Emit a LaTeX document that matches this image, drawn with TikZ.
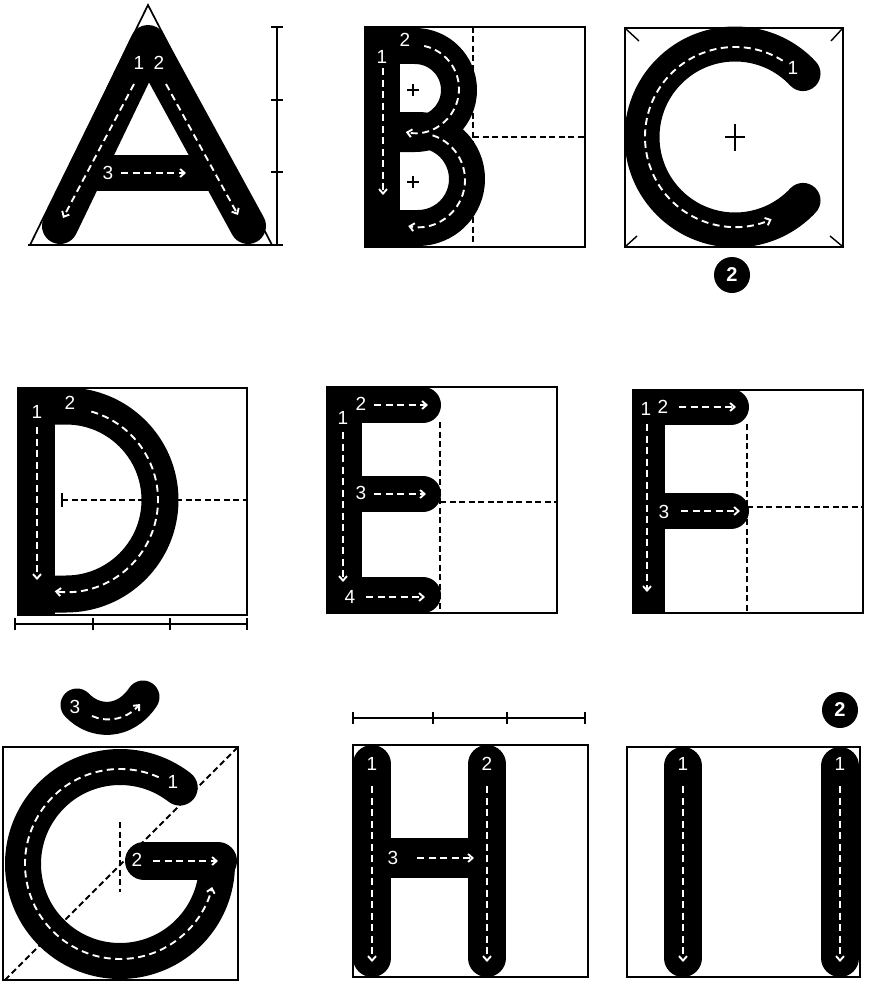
\documentclass[tikz,border=0pt]{standalone}
\usepackage{fontspec}
\setsansfont{Liberation Sans}
\usetikzlibrary{arrows.meta}
\begin{document}
\begin{tikzpicture}[x=1pt,y=-1pt,
  frame/.style={draw=black,line width=1.7pt},
  guide/.style={draw=black,line width=1.8pt,dash pattern=on 6pt off 3.5pt},
  ink/.style={draw=black,line width=36pt,line cap=round,line join=round},
  trace/.style={draw=white,line width=1.9pt,dash pattern=on 7pt off 4.5pt,-{Straight Barb[length=4.5pt,width=8pt]}},
  num/.style={text=white,font=\sffamily\fontsize{19}{19}\selectfont,inner sep=0pt},
  badge/.style={circle,fill=black,minimum size=36pt,inner sep=0pt,text=white,font=\sffamily\bfseries\fontsize{20}{20}\selectfont},
  scalebar/.style={draw=black,line width=1.7pt},
  cross/.style={draw=black,line width=1.4pt}
]
\useasboundingbox (0,0) rectangle (880,982);
\fill[white] (0,0) rectangle (880,982);

% ---------------- A ----------------
\draw[frame] (28,245) -- (283,245);
\draw[frame] (30,245) -- (148,5) -- (272,245);
\draw[scalebar] (277,27) -- (277,245);
\foreach \y in {27,100,172,245} \draw[scalebar] (271,\y) -- (283,\y);
\draw[ink] (60,226) -- (148,43) -- (248,226);
\draw[ink,line cap=butt] (86,173) -- (218,173);
\draw[trace] (134,84) -- (63,218);
\draw[trace] (166,84) -- (238,215);
\draw[trace] (121,173) -- (186,173);
\node[num] (a1) at (139,63) {1};
\node[num] (a2) at (159,63) {2};
\node[num] (a3) at (108,173) {3};

% ---------------- B ----------------
\draw[frame] (365,27) rectangle (585,247);
\draw[guide] (473,27) -- (473,247);
\draw[guide] (473,137) -- (585,137);
\fill (366,27) rectangle (400,247);
\draw[ink,line cap=butt] (383,46) -- (415,46) arc[start angle=-90,end angle=90,radius=44] -- (383,134);
\draw[ink,line cap=butt] (383,130) -- (418,130) arc[start angle=-90,end angle=90,radius=49] -- (383,228);
\draw[cross] (407,90) -- (419,90) (413,84) -- (413,96);
\draw[cross] (407,182) -- (419,182) (413,176) -- (413,188);
\draw[trace] (383,68) -- (383,195);
\draw[trace] (415,89) ++(-78:44) arc[start angle=-78,end angle=102,radius=44];
\draw[trace] (418,180) ++(-72:47) arc[start angle=-72,end angle=102,radius=47];
\node[num] (b1) at (382,57) {1};
\node[num] (b2) at (405,40) {2};

% ---------------- C ----------------
\draw[frame] (625,28) rectangle (843,247);
\draw[cross] (626,29) -- (639,41);
\draw[cross] (842,29) -- (831,41);
\draw[cross] (626,246) -- (637,236);
\draw[cross] (842,246) -- (830,236);
\draw[ink,line width=35pt] (735,137) ++(-43:93) arc[start angle=-43,end angle=-317,radius=93];
\draw[cross] (725,137) -- (745,137) (735,124) -- (735,151);
\draw[trace] (735,137) ++(-58:90) arc[start angle=-58,end angle=-294,radius=90];
\node[num] (c1) at (793,68) {1};
\node[badge] (c2) at (732,275) {2};

% ---------------- D ----------------
\draw[frame] (18,388) rectangle (247,615);
\draw[guide] (62,500) -- (247,500);
\draw[cross,line width=1.8pt] (62,493) -- (62,507);
\fill (18,388) rectangle (55,615);
\draw[ink,line width=37pt,line cap=butt] (36,406) -- (66,406) arc[start angle=-90,end angle=90,radius=94] -- (36,594);
\draw[trace] (37,427) -- (37,580);
\draw[trace] (66,500) ++(-74:92) arc[start angle=-74,end angle=97,radius=92];
\node[num] (d1) at (37,412) {1};
\node[num] (d2) at (70,403) {2};
\draw[scalebar] (15,624) -- (247,624);
\foreach \x in {15,93,170,247} \draw[scalebar] (\x,618) -- (\x,630);

% ---------------- E ----------------
\draw[frame] (327,387) rectangle (557,613);
\draw[guide] (440,422) -- (440,613);
\draw[guide] (440,502) -- (557,502);
\fill (327,387) rectangle (362,613);
\draw[ink] (345,405) -- (423,405);
\draw[ink] (345,494) -- (423,494);
\draw[ink] (345,595) -- (423,595);
\draw[trace] (343,432) -- (343,582);
\draw[trace] (374,405) -- (428,405);
\draw[trace] (374,494) -- (426,494);
\draw[trace] (366,597) -- (425,597);
\node[num] (e1) at (343,418) {1};
\node[num] (e2) at (361,404) {2};
\node[num] (e3) at (361,493) {3};
\node[num] (e4) at (350,597) {4};

% ---------------- F ----------------
\draw[frame] (633,390) rectangle (863,613);
\draw[guide] (747,424) -- (747,613);
\draw[guide] (747,507) -- (863,507);
\fill (633,390) rectangle (665,613);
\draw[ink] (650,407) -- (731,407);
\draw[ink] (650,511) -- (731,511);
\draw[trace] (647,424) -- (647,592);
\draw[trace] (679,407) -- (736,407);
\draw[trace] (681,511) -- (740,511);
\node[num] (f1) at (646,409) {1};
\node[num] (f2) at (663,407) {2};
\node[num] (f3) at (664,512) {3};

% ---------------- G breve ----------------
\draw[frame] (3,747) rectangle (238,980);
\draw[guide] (5,980) -- (238,747);
\draw[guide] (120,822) -- (120,892);
\draw[ink] (120,864) ++(-52:97) arc[start angle=-52,end angle=-360,radius=97];
\draw[ink,line width=38pt] (144,861) -- (218,861);
\draw[trace] (120,864) ++(-66:95) arc[start angle=-66,end angle=-346,radius=95];
\draw[trace] (153,861) -- (218,861);
\node[num] (g1) at (173,782) {1};
\node[num] (g2) at (137,860) {2};
\draw[ink,line width=33pt] (77,705) .. controls (95,724) and (125,724) .. (143,697);
\draw[trace] (92,716) .. controls (105,722) and (125,721) .. (140,704);
\node[num] (g3) at (75,707) {3};

% ---------------- H ----------------
\draw[scalebar] (353,718) -- (585,718);
\foreach \x in {353,433,507,585} \draw[scalebar] (\x,712) -- (\x,724);
\draw[frame] (353,745) rectangle (588,977);
\draw[ink,line width=38pt] (372,764) -- (372,958);
\draw[ink,line width=38pt] (487,764) -- (487,958);
\draw[ink,line width=40pt,line cap=butt] (372,858) -- (487,858);
\draw[trace] (372,786) -- (372,962);
\draw[trace] (487,786) -- (487,962);
\draw[trace] (417,858) -- (474,858);
\node[num] (h1) at (372,764) {1};
\node[num] (h2) at (487,764) {2};
\node[num] (h3) at (393,858) {3};

% ---------------- I ----------------
\draw[frame] (627,747) rectangle (860,977);
\draw[ink,line width=38pt] (683,766) -- (683,958);
\draw[ink,line width=38pt] (840,766) -- (840,958);
\draw[trace] (683,786) -- (683,962);
\draw[trace] (840,786) -- (840,962);
\node[num] (i1) at (683,764) {1};
\node[num] (i2) at (840,764) {1};
\node[badge] (i3) at (840,710) {2};
\end{tikzpicture}
\end{document}
